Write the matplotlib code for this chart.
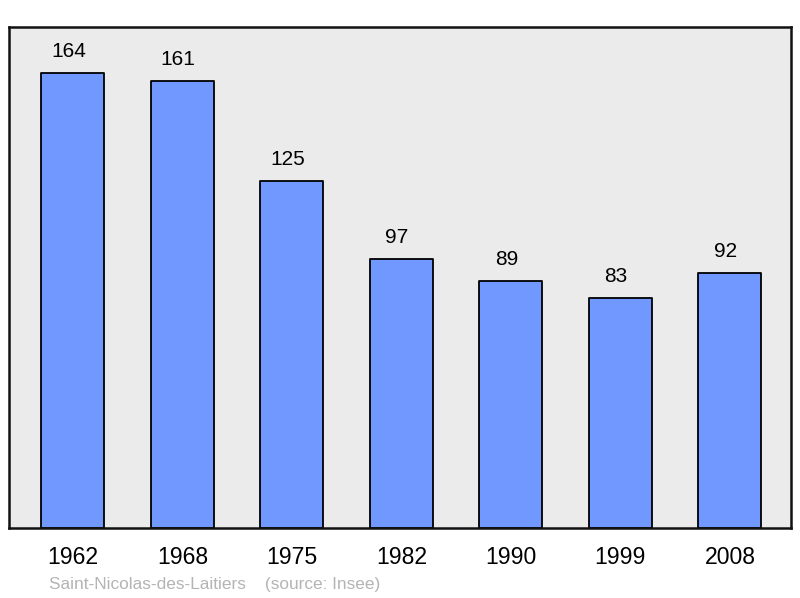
import matplotlib
matplotlib.use("Agg")
import matplotlib.pyplot as plt

# population by census year
years = ["1962", "1968", "1975", "1982", "1990", "1999", "2008"]
population = [164, 161, 125, 97, 89, 83, 92]
place = "Saint-Nicolas-des-Laitiers"
source = "(source: Insee)"

plt.rcParams['font.family'] = ['Liberation Sans', 'DejaVu Sans']

fig = plt.figure(figsize=(8, 5.98), dpi=100)
ax = fig.add_axes([9 / 800, 1 - 528 / 598, 782 / 800, 501 / 598])
ax.set_facecolor('#ebebeb')

xs = list(range(len(years)))
bars = ax.bar(xs, population, width=0.575, color='#7098ff',
              edgecolor='black', linewidth=1.3, joinstyle='round', zorder=2)

# value labels sit a little left of the bar centre, like the original
for x, v in zip(xs, population):
    ax.annotate(str(v), (x, v), xytext=(-3.3, 15.4), textcoords='offset points',
                ha='center', va='center', fontsize=15)

ax.set_xlim(-0.584, 6.558)
ax.set_ylim(0, 180.6)
ax.set_xticks(xs)
ax.set_xticklabels(years, fontsize=16.6)
ax.tick_params(axis='x', length=0, pad=13)
ax.set_yticks([])
for s in ax.spines.values():
    s.set_linewidth(1.8)
    s.set_color('#111111')

fig.text(49 / 800, 1 - 584 / 598, place + "    " + source,
         color='#b4b4b4', fontsize=12.4, va='center')

fig.savefig("out.png", dpi=100)
